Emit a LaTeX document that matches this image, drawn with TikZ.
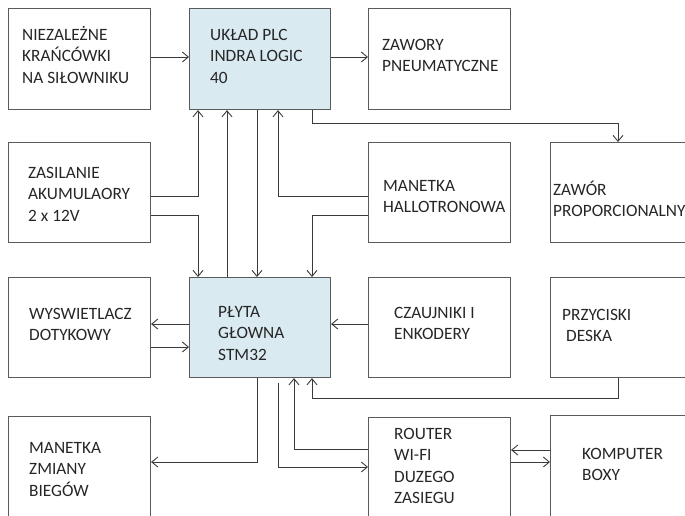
\documentclass[tikz,border=0pt]{standalone}
\usepackage{fontspec}
\setmainfont{Carlito}
\usetikzlibrary{arrows.meta}
\definecolor{boxline}{HTML}{5A5A5A}
\definecolor{connc}{HTML}{3A3A3A}
\definecolor{fillblue}{HTML}{DAEAF1}
\definecolor{textc}{HTML}{262626}
\tikzset{
  blk/.style={draw=boxline, line width=1.1pt, rectangle, inner sep=0pt, anchor=north west},
  bluebox/.style={blk, fill=fillblue},
  txt/.style={anchor=base west, inner sep=0pt, text=textc},
  conn/.style={draw=connc, line width=0.9pt},
  arr/.style={conn, -{Straight Barb[length=6pt,width=10pt,line width=0.9pt]}},
}
\newcommand{\boxlines}[1]{\fontsize{17.3}{21.5}\selectfont\begin{tabular}[t]{@{}l@{}}#1\end{tabular}}
\begin{document}
\begin{tikzpicture}[x=1pt,y=-1pt]
\useasboundingbox (0,0) rectangle (685,515);
% boxes
\node[blk,  minimum width=142pt, minimum height=101pt] (niez) at (8,8) {};
\node[bluebox, minimum width=141pt, minimum height=101pt] (plc) at (189,8) {};
\node[blk,  minimum width=142pt, minimum height=101pt] (zaw) at (368,8) {};
\node[blk,  minimum width=142pt, minimum height=100pt] (zas) at (8,142) {};
\node[blk,  minimum width=142pt, minimum height=100pt] (hall) at (368,142) {};
\node[blk,  minimum width=160pt, minimum height=100pt] (prop) at (550,142) {};
\node[blk,  minimum width=142pt, minimum height=100pt] (wysw) at (8,277) {};
\node[bluebox, minimum width=141pt, minimum height=100pt] (plyta) at (189,277) {};
\node[blk,  minimum width=142pt, minimum height=100pt] (czuj) at (368,277) {};
\node[blk,  minimum width=160pt, minimum height=100pt] (przy) at (550,277) {};
\node[blk,  minimum width=142pt, minimum height=120pt] (biegi) at (8,416) {};
\node[blk,  minimum width=142pt, minimum height=120pt] (router) at (368,417) {};
\node[blk,  minimum width=160pt, minimum height=120pt] (komp) at (550,415) {};
% texts
\node[txt] (t1) at (22,40) {\boxlines{NIEZALEŻNE\\KRAŃCÓWKI\\NA SIŁOWNIKU}};
\node[txt] (t2) at (210,40) {\boxlines{UKŁAD PLC\\INDRA LOGIC\\40}};
\node[txt] (t3) at (382,50) {\boxlines{ZAWORY\\PNEUMATYCZNE}};
\node[txt] (t4) at (28,178) {\boxlines{ZASILANIE\\AKUMULAORY\\2 x 12V}};
\node[txt] (t5) at (383,191) {\boxlines{MANETKA\\HALLOTRONOWA}};
\node[txt] (t6) at (553,195) {\boxlines{ZAWÓR\\PROPORCIONALNY}};
\node[txt] (t7) at (29,319) {\boxlines{WYSWIETLACZ\\DOTYKOWY}};
\node[txt] (t8) at (218,317) {\boxlines{PŁYTA\\GŁOWNA\\STM32}};
\node[txt] (t9) at (394,318) {\boxlines{CZAUJNIKI I\\ENKODERY}};
\node[txt] (t10) at (562,320) {\boxlines{PRZYCISKI\\\hspace{4pt}DESKA}};
\node[txt] (t11) at (29,453) {\boxlines{MANETKA\\ZMIANY\\BIEGÓW}};
\node[txt] (t12) at (394,439) {\boxlines{ROUTER\\WI-FI\\DUZEGO\\ZASIEGU}};
\node[txt] (t13) at (582,459) {\boxlines{KOMPUTER\\BOXY}};
% connectors
\draw[arr] (niez.east |- 0,57) -- (plc.west |- 0,57);
\draw[arr] (plc.east |- 0,57) -- (zaw.west |- 0,57);
\draw[arr] (plc.south -| 312,0) -- (312,123) -| (prop.north -| 618,0);
\draw[arr] (zas.east |- 0,196) -| (plc.south -| 198,0);
\draw[arr] (zas.east |- 0,215) -| (plyta.north -| 198,0);
\draw[arr] (plyta.north -| 227,0) -- (plc.south -| 227,0);
\draw[arr] (plc.south -| 257,0) -- (plyta.north -| 257,0);
\draw[arr] (hall.west |- 0,196) -| (plc.south -| 278,0);
\draw[arr] (hall.west |- 0,215) -| (plyta.north -| 312,0);
\draw[arr] (plyta.west |- 0,324) -- (wysw.east |- 0,324);
\draw[arr] (wysw.east |- 0,347) -- (plyta.west |- 0,347);
\draw[arr] (czuj.west |- 0,324) -- (plyta.east |- 0,324);
\draw[arr] (przy.south -| 618,0) -- (618,398) -| (plyta.south -| 312,0);
\draw[arr] (router.west |- 0,449) -| (plyta.south -| 294,0);
\draw[arr] ([yshift=-5pt]plyta.south -| 278,0) |- (router.west |- 0,467);
\draw[arr] (plyta.south -| 257,0) |- (biegi.east |- 0,462);
\draw[arr] (komp.west |- 0,450) -- (router.east |- 0,450);
\draw[arr] (router.east |- 0,462) -- (komp.west |- 0,462);
\end{tikzpicture}
\end{document}
